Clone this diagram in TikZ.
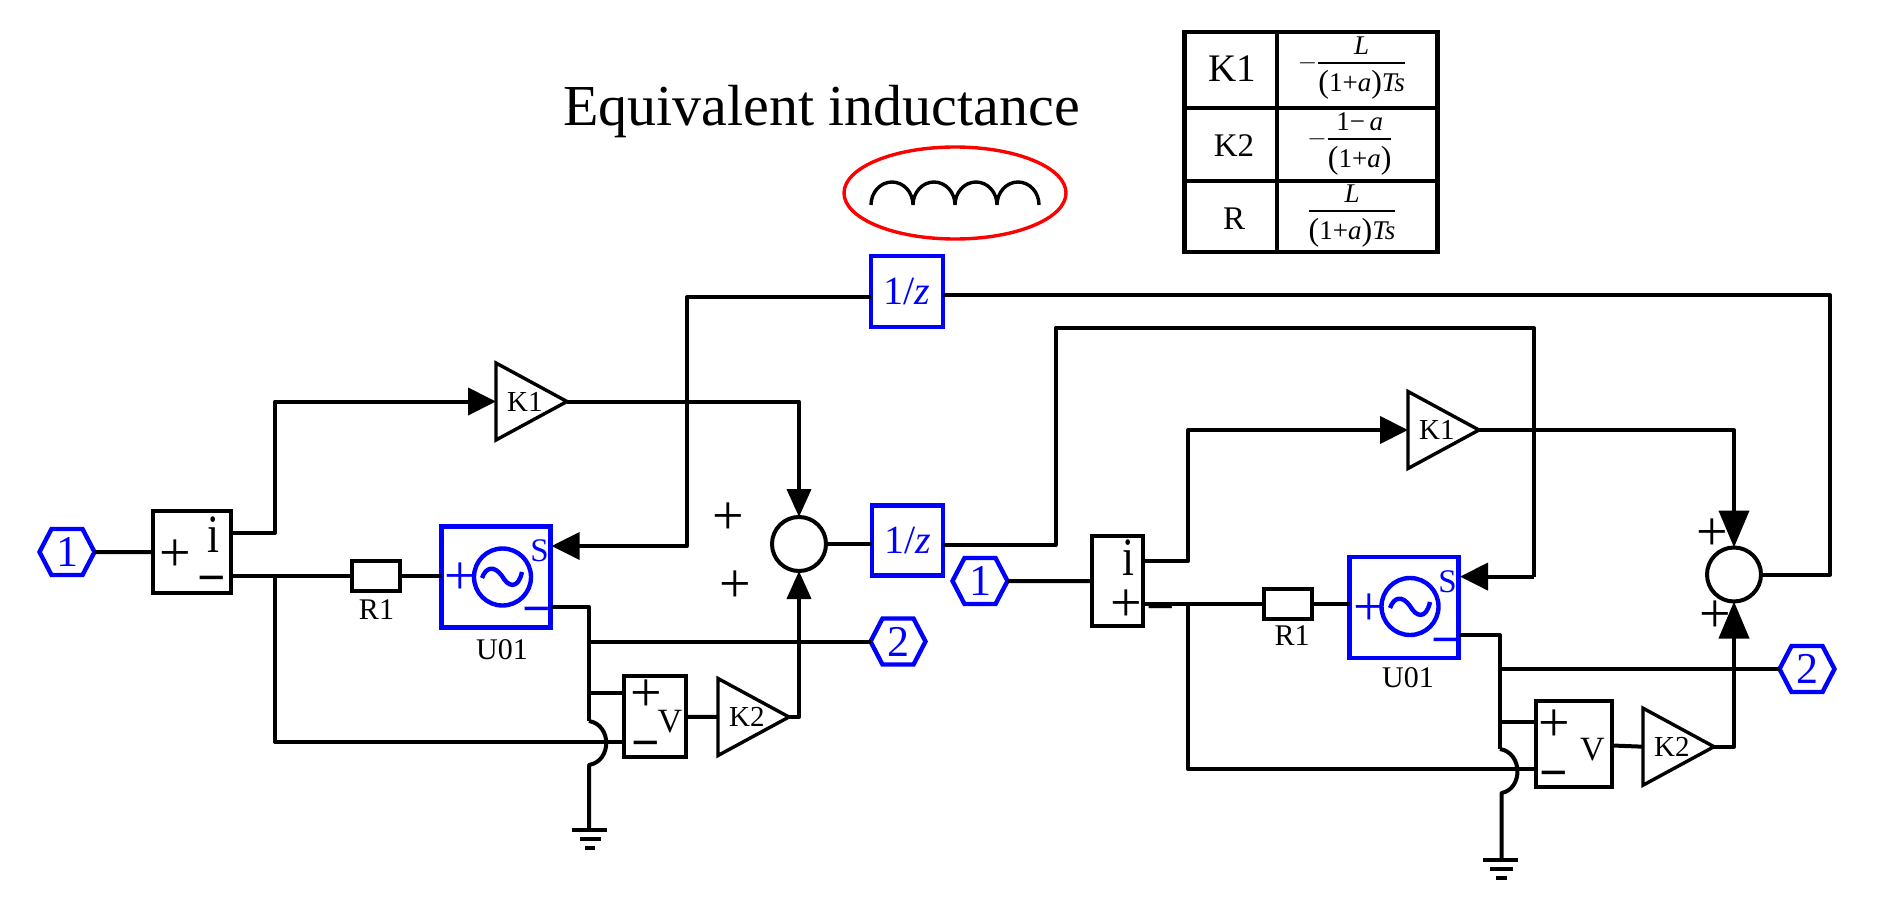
\documentclass[tikz,border=0pt]{standalone}
\usepackage{amsmath}
\usepackage{xcolor}
\usepackage{fontspec}
\setmainfont{Liberation Serif}
\usepackage{tikz}
\usetikzlibrary{arrows.meta,shapes.geometric,shapes.symbols}
\newcommand{\fs}[1]{\fontsize{#1}{#1}\selectfont}
\newcommand{\tabfrac}[2]{$\genfrac{}{}{2pt}{0}{\raisebox{-2.5pt}[12pt][0pt]{#1}}{#2}$}
\newcommand{\tall}[1]{{\fs{32}\raisebox{-1pt}{#1}}}
\newcommand{\sli}{\scalebox{0.8}[1]{i}}
\begin{document}
\begin{tikzpicture}[x=1pt,y=-1pt,
      wire/.style={line width=4pt,line join=round},
      tipS/.style={-{Triangle[length=28pt,width=27pt]}},
      tipL/.style={-{Triangle[length=37pt,width=30pt]}},
      tipU/.style={-{Triangle[length=28pt,width=24pt]}}]
      \tikzstyle{every node}=[inner sep=0pt,outer sep=0pt]
      \tikzstyle{meter}=[draw,line width=4pt,rectangle]
      \tikzstyle{res}=[draw,line width=4pt,rectangle,minimum width=48pt,minimum height=30pt]
      \tikzstyle{src}=[draw=blue,line width=4.6pt,rectangle,minimum width=109pt,minimum height=101pt]
      \tikzstyle{wave}=[draw=blue,line width=4.4pt,circle,minimum size=57pt]
      \tikzstyle{delay}=[draw=blue,line width=4.6pt,rectangle,minimum width=71pt,minimum height=70pt,text=blue,font=\fs{40}]
      \tikzstyle{port}=[draw=blue,line width=4.4pt,signal,signal to=east and west,signal pointer angle=125,minimum width=55pt,minimum height=46pt,text=blue,font=\fs{44}]
      \tikzstyle{gain}=[draw,line width=3.4pt,isosceles triangle,isosceles triangle stretches,minimum width=77pt,minimum height=71pt,anchor=lower side,font=\fs{29}]
      \tikzstyle{summer}=[draw,line width=4pt,circle,minimum size=54pt]
      \tikzstyle{sym}=[font=\fs{56}]
      \tikzstyle{bar}=[font=\fs{50}\bfseries]
      \tikzstyle{lab}=[font=\fs{30}]
      \useasboundingbox (0,0) rectangle (1877,915);

      \node[font=\fs{58},anchor=base west] (title) at (563,126) {Equivalent inductance};
      \node[draw=red,line width=3.4pt,ellipse,minimum width=222pt,minimum height=92pt] (coilring) at (955,193) {};
      \draw[line width=3.4pt] (871,205) arc[start angle=180,end angle=360,x radius=21,y radius=23]
        arc[start angle=180,end angle=360,x radius=21,y radius=23]
        arc[start angle=180,end angle=360,x radius=21,y radius=23]
        arc[start angle=180,end angle=360,x radius=21,y radius=23];

      % table
      \node[draw,line width=4.6pt,rectangle,minimum width=253pt,minimum height=220pt] (tab) at (1311,142) {};
      \draw[line width=4.6pt] (1277,32) -- (1277,252);
      \draw[line width=4.6pt] (1184.5,108) -- (1437.5,108);
      \draw[line width=4.6pt] (1184.5,181) -- (1437.5,181);
      \node[font=\fs{39}] (tk1) at (1232,69) {K1};
      \node[font=\fs{33}] (tk2) at (1234,146) {K2};
      \node[font=\fs{33}] (tr) at (1234,219) {R};
      \node[font=\fs{27}] (fk1) at (1352,68) {$-$\tabfrac{\textit{L}}{\tall{(}\textrm{1+}\textit{a}\tall{)}\textit{Ts}}};
      \node[font=\fs{27}] (fk2) at (1350,144) {$-$\tabfrac{\textrm{1−\,}\textit{a}}{\tall{(}\textrm{1+}\textit{a}\tall{)}}};
      \node[font=\fs{27}] (fr) at (1352,216) {\tabfrac{\textit{L}}{\tall{(}\textrm{1+}\textit{a}\tall{)}\textit{Ts}}};

      % left stage
      \node[port] (pA) at (67,552) {1};
      \node[meter,minimum width=78pt,minimum height=82pt] (iA) at (192,552) {};
      \node[sym] (iAp) at (175,556) {+};
      \node[font=\fs{54}] (iAi) at (213,535) {\sli};
      \node[bar] (iAm) at (212,585) {−};
      \node[res] (rA) at (376,576) {};
      \node[lab] (rAl) at (376.5,610) {R1};
      \node[src] (uA) at (496,577) {};
      \node[wave] (wA) at (502.5,577) {};
      \draw[blue,line width=4.4pt] (482,578) .. controls (486,567) and (494,565) .. (502,576) .. controls (508,587) and (518,590) .. (522,572);
      \node[sym,text=blue] (uAp) at (460.5,579) {+};
      \node[bar,text=blue] (uAm) at (537,616) {−};
      \node[text=blue,font=\fs{33}] (uAs) at (539.5,551) {S};
      \node[lab] (uAl) at (502,650) {U01};
      \node[gain] (kA) at (496,401.5) {\hspace*{8pt}K1};
      \node[summer] (sA) at (799,544) {};
      \node[sym] (sAa) at (728,519) {+};
      \node[sym] (sAb) at (735,587) {+};
      \node[delay] (dA) at (907.5,540.5) {1/\textit{z}};
      \node[delay,minimum width=72pt,minimum height=71pt] (dT) at (907,291.5) {1/\textit{z}};
      \node[port] (qA) at (898,641.5) {2};
      \node[meter,minimum width=62pt,minimum height=81pt] (vA) at (654.5,716.5) {};
      \node[sym] (vAp) at (646,696) {+};
      \node[bar] (vAm) at (646,750) {−};
      \node[font=\fs{34}] (vAv) at (670,722) {V};
      \node[gain] (gA) at (718,717) {\hspace*{8pt}K2};

      \coordinate (iAt) at (231,533);
      \coordinate (iAb) at (231,576);
      \coordinate (jA) at (275,576);
      \coordinate (lA) at (589,607);
      \coordinate (hopA) at (589,721);
      \coordinate (hopB) at (589,765);
      \coordinate (gndA) at (589,830);
      \coordinate (fbA) at (687,297);
      \coordinate (dTl) at (871,297);
      \coordinate (dTr) at (943,295);
      \coordinate (uAs2) at (551.6,546);

      \draw[wire] (pA) -- (iA);
      \draw[wire,tipS] (iAt) -| (275,401.5) -- (kA.lower side);
      \draw[wire] (iAb) -- (rA);
      \draw[wire] (rA) -- (rA -| uA.west);
      \draw[wire] (jA) |- (vA.west |- 0,742);
      \draw[wire,tipU] (kA.apex) -| (sA.north);
      \draw[wire,tipU] (gA.apex) -| (sA.south);
      \draw[wire] (sA.east) -- (sA.east -| dA.west);
      \draw[wire,tipS] (dTl) -| (fbA |- uAs2) -- (uAs2);
      \draw[wire] (uA.east |- lA) -| (hopA);
      \draw[wire] (lA -| hopA) |- (qA.west);
      \draw[wire] (589,693) -- (vA.west |- 0,693);
      \draw[wire] (hopA) .. controls (612,725) and (612,761) .. (hopB) -- (gndA);
      \draw[wire] (vA) -- (gA.lower side);
      \draw[wire] (572,830) -- (607,830);
      \draw[wire] (580,839) -- (601,839);
      \draw[wire] (585,848) -- (595,848);

      % right stage
      \node[port] (pB) at (980,581) {1};
      \node[meter,minimum width=51pt,minimum height=89.5pt] (iB) at (1117,581) {};
      \node[font=\fs{54}] (iBi) at (1128,558) {\sli};
      \node[res] (rB) at (1287.5,604) {};
      \node[lab] (rBl) at (1292,636) {R1};
      \node[src] (uB) at (1404,607.5) {};
      \node[wave] (wB) at (1410,606.5) {};
      \draw[blue,line width=4.4pt] (1390,608) .. controls (1394,597) and (1402,595) .. (1410,606) .. controls (1416,617) and (1426,620) .. (1430,602);
      \node[sym,text=blue] (uBp) at (1369,609.5) {+};
      \node[bar,text=blue] (uBm) at (1446,647) {−};
      \node[text=blue,font=\fs{33}] (uBs) at (1447.5,582) {S};
      \node[lab] (uBl) at (1408,678) {U01};
      \node[gain] (kB) at (1408,430) {\hspace*{8pt}K1};
      \node[summer] (sB) at (1734,574.5) {};
      \node[sym] (sBa) at (1712,535) {+};
      \node[sym] (sBb) at (1715,616.5) {+};
      \node[port] (qB) at (1807,669) {2};
      \node[meter,minimum width=76pt,minimum height=86.5pt] (vB) at (1574,744) {};
      \node[sym] (vBp) at (1554,726) {+};
      \node[bar] (vBm) at (1554,780) {−};
      \node[font=\fs{34}] (vBv) at (1592.5,749.3) {V};
      \node[gain] (gB) at (1643,746.7) {\hspace*{8pt}K2};

      \coordinate (iBt) at (1142.6,561);
      \coordinate (iBb) at (1142.6,604);
      \coordinate (jB) at (1188,604);
      \coordinate (lB) at (1500,635);
      \coordinate (hopC) at (1500,749);
      \coordinate (hopD) at (1501.5,793);
      \coordinate (gndB) at (1501.5,860);
      \coordinate (fbB) at (1534,328);
      \coordinate (fbC) at (1055.6,328);
      \coordinate (fbD) at (1830,295);
      \coordinate (dAo) at (943,545);
      \coordinate (uBs2) at (1460,576.6);

      \node[sym] (iBp) at (1126,605.5) {+};
      \draw[wire] (pB) -- (iB.west |- pB);
      \draw[wire,tipS] (iBt) -| (1188,430) -- (kB.lower side);
      \draw[wire] (iBb) -- (rB);
      \node[bar] (iBm) at (1161,614) {−};
      \draw[wire] (rB) -- (rB -| uB.west);
      \draw[wire] (jB) |- (vB.west |- 0,769);
      \draw[wire] (dAo) -| (fbC) -- (fbB) -- (fbB |- uBs2);
      \draw[wire,tipS] (fbB |- uBs2) -- (uBs2);
      \draw[wire,tipL] (kB.apex) -| (sB.north);
      \draw[wire,tipL] (gB.apex) -| (sB.south);
      \draw[wire] (sB.east) -| (fbD) -- (dTr);
      \draw[wire] (uB.east |- lB) -| (hopC);
      \draw[wire] (lB |- qB) -- (qB.west);
      \draw[wire] (1500,721.7) -- (vB.west |- 0,721.7);
      \draw[wire] (hopC) .. controls (1523,753) and (1523,789) .. (hopD) -- (gndB);
      \draw[wire] (vB) -- (gB.lower side);
      \draw[wire] (1483,860) -- (1518,860);
      \draw[wire] (1490,869) -- (1513,869);
      \draw[wire] (1496,878) -- (1507,878);
      \end{tikzpicture}
\end{document}
